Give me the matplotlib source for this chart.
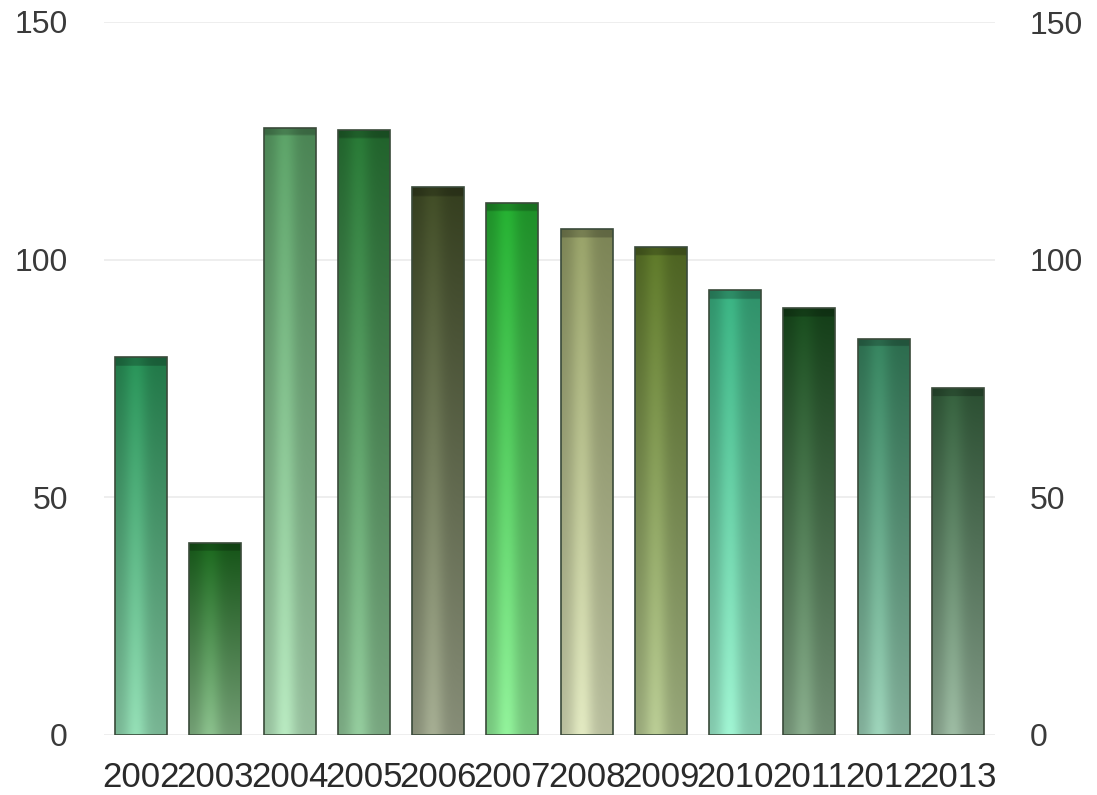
import matplotlib
matplotlib.use("Agg")
import matplotlib.pyplot as plt
import matplotlib.colors as mcolors
import numpy as np

years = ["2002", "2003", "2004", "2005", "2006", "2007",
         "2008", "2009", "2010", "2011", "2012", "2013"]
values = [79.5, 40.3, 127.8, 127.2, 115.2, 112.0,
          106.4, 102.6, 93.6, 89.8, 83.4, 73.0]
bar_colors = ["#2fae68", "#1f7a22", "#6cc07a", "#2f8f3f", "#4c5a2c", "#2bd03a",
              "#b4c07c", "#6f8f30", "#44d49a", "#1c5a22", "#3f9c70", "#3e7248"]
y_ticks = [0, 50, 100, 150]

plt.rcParams["font.family"] = ["Liberation Sans", "DejaVu Sans"]


def bar_gradient(color, height, n=300, m=60):
    base = np.array(mcolors.to_rgb(color))
    # vertical: darker at the top, washed out towards the bottom
    t = np.linspace(0, 1, n)[:, None]
    top = base * 0.8
    bottom = base + (1 - base) * 0.45
    col = top[None, :] * (1 - t) + bottom[None, :] * t
    # thin dark cap along the top edge (about 1.6 data units tall)
    cap = np.where(t < 1.6 / height, 0.78, 1.0)
    # horizontal: shaded edges, brighter band left of centre
    s = np.linspace(0, 1, m)
    shade = 0.86 + 0.2 * np.exp(-((s - 0.4) / 0.22) ** 2)
    img = col[:, None, :] * shade[None, :, None] * cap[:, :, None]
    return np.clip(img, 0, 1)


fig = plt.figure(figsize=(10.97, 7.95), dpi=100)
ax = fig.add_axes([104 / 1097, 60 / 795, 891 / 1097, 713 / 795])
x = np.arange(len(years))
width = 0.7

ax.set_xlim(-0.5, len(years) - 0.5)
ax.set_ylim(0, 150)

bars = ax.bar(x, values, width=width, facecolor="none",
              edgecolor="#3a4a3a", linewidth=1.2, zorder=3)
for rect, c in zip(bars, bar_colors):
    x0, y0 = rect.get_x(), rect.get_y()
    w, h = rect.get_width(), rect.get_height()
    im = ax.imshow(bar_gradient(c, h), extent=[x0, x0 + w, y0, y0 + h],
                   aspect="auto", origin="upper", zorder=2,
                   interpolation="bilinear")
    im.set_clip_path(rect)

ax.set_yticks(y_ticks)
ax.yaxis.grid(True, color="#ebebeb", linewidth=1.2, zorder=0)
ax.set_axisbelow(True)
ax.set_xticks(x)
ax.set_xticklabels(years)
for s in ax.spines.values():
    s.set_visible(False)
ax.tick_params(axis="y", length=0, pad=26, labelsize=23, labelcolor="#3a3a3a")
ax.tick_params(axis="x", length=0, pad=19, labelsize=25, labelcolor="#2a2a2a")

ax2 = ax.twinx()
ax2.set_ylim(0, 150)
ax2.set_yticks(y_ticks)
for s in ax2.spines.values():
    s.set_visible(False)
ax2.tick_params(axis="y", length=0, pad=25, labelsize=23, labelcolor="#3a3a3a")

fig.savefig("out.png", dpi=100, facecolor="white")
